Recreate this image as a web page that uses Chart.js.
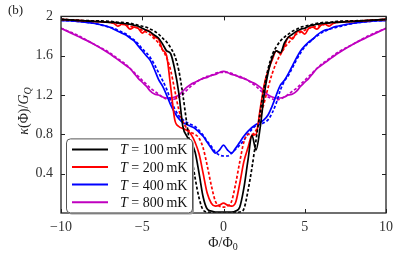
<!DOCTYPE html>
<html>
<head>
<meta charset="utf-8">
<script src="https://cdn.jsdelivr.net/npm/chart.js@4.4.0/dist/chart.umd.min.js"></script>
<style>
  html, body { margin: 0; padding: 0; background: #fff; }
  canvas { display: block; }
</style>
</head>
<body>
<canvas id="chart" width="407" height="253"></canvas>
<script>
// flux values, shared by every curve
const phi = [-10,-9,-8,-7,-6.75,-6.5,-6.25,-6,-5.75,-5.5,-5.25,-5,-4.75,-4.5,-4.25,-4,-3.75,-3.5,-3.25,-3,-2.75,-2.5,-2.25,-2,-1.75,-1.5,-1.25,-1,-0.75,-0.5,-0.25,
  0,
  0.25,0.5,0.75,1,1.25,1.5,1.75,2,2.25,2.5,2.75,3,3.25,3.5,3.75,4,4.25,4.5,4.75,5,5.25,5.5,5.75,6,6.25,6.5,6.75,7,8,9,10]

// kappa / G_Q, solid and dotted, per temperature
const k100 = [1.97,1.96,1.95,1.94,1.94,1.935,1.93,1.925,1.92,1.91,1.9,1.88,1.86,1.84,1.81,1.78,1.72,1.65,1.62,1.46,1.22,0.88,0.78,0.72,0.62,0.4,0.16,0.04,0.02,0.01,0.01,
  0.01,
  0.01,0.01,0.02,0.06,0.25,0.53,0.79,0.64,0.86,1.2,1.43,1.58,1.65,1.63,1.73,1.79,1.82,1.85,1.87,1.88,1.9,1.91,1.92,1.925,1.93,1.935,1.94,1.94,1.95,1.96,1.97]
const k100d = [1.97,1.96,1.955,1.95,1.945,1.94,1.94,1.935,1.93,1.92,1.91,1.9,1.89,1.87,1.85,1.82,1.78,1.74,1.68,1.6,1.45,1.2,0.9,0.62,0.36,0.15,0.03,0.01,0.005,0,0,
  0,
  0,0,0.005,0.01,0.04,0.22,0.46,0.74,1.02,1.27,1.47,1.61,1.69,1.75,1.79,1.82,1.85,1.87,1.89,1.9,1.91,1.92,1.93,1.935,1.94,1.94,1.945,1.95,1.955,1.96,1.97]
const k200 = [1.97,1.96,1.95,1.94,1.93,1.9,1.92,1.91,1.87,1.89,1.88,1.83,1.86,1.84,1.79,1.77,1.66,1.6,1.28,0.95,0.88,0.86,0.84,0.8,0.72,0.6,0.4,0.2,0.1,0.07,0.08,
  0.1,
  0.08,0.07,0.11,0.3,0.52,0.66,0.79,0.8,1.05,1.3,1.45,1.56,1.65,1.62,1.7,1.79,1.77,1.84,1.85,1.82,1.88,1.89,1.87,1.91,1.92,1.9,1.93,1.94,1.95,1.96,1.97]
const k200d = [1.97,1.96,1.95,1.94,1.93,1.93,1.92,1.91,1.9,1.89,1.88,1.86,1.84,1.81,1.77,1.73,1.66,1.58,1.45,1.25,1.05,0.93,0.86,0.82,0.8,0.76,0.66,0.48,0.28,0.12,0.07,
  0.06,
  0.07,0.12,0.3,0.52,0.72,0.8,0.8,0.84,0.97,1.12,1.28,1.42,1.53,1.61,1.68,1.73,1.78,1.82,1.84,1.86,1.88,1.89,1.9,1.91,1.92,1.93,1.93,1.94,1.95,1.96,1.97]
const k400 = [1.96,1.95,1.93,1.89,1.87,1.85,1.83,1.81,1.78,1.75,1.7,1.65,1.6,1.55,1.46,1.36,1.29,1.2,1.1,1.02,0.96,0.92,0.9,0.88,0.86,0.82,0.78,0.72,0.66,0.61,0.64,
  0.69,
  0.64,0.61,0.66,0.72,0.78,0.83,0.87,0.9,0.92,0.95,1.0,1.09,1.2,1.3,1.35,1.42,1.5,1.58,1.65,1.7,1.74,1.77,1.81,1.84,1.86,1.87,1.89,1.9,1.93,1.95,1.96]
const k400d = [1.96,1.95,1.93,1.89,1.88,1.86,1.84,1.82,1.79,1.76,1.72,1.67,1.63,1.58,1.51,1.43,1.35,1.26,1.15,1.06,0.99,0.95,0.92,0.9,0.88,0.84,0.79,0.73,0.68,0.62,0.59,
  0.58,
  0.58,0.61,0.65,0.69,0.74,0.8,0.85,0.89,0.9,0.92,0.95,1.02,1.12,1.25,1.34,1.4,1.48,1.56,1.63,1.69,1.73,1.77,1.8,1.83,1.85,1.87,1.88,1.89,1.93,1.95,1.96]
const k800 = [1.88,1.8,1.72,1.62,1.59,1.56,1.53,1.5,1.47,1.42,1.37,1.33,1.29,1.24,1.21,1.2,1.18,1.17,1.17,1.18,1.2,1.24,1.28,1.31,1.33,1.35,1.37,1.38,1.4,1.41,1.43,
  1.44,
  1.43,1.41,1.4,1.38,1.37,1.35,1.33,1.31,1.28,1.24,1.2,1.18,1.17,1.17,1.18,1.2,1.21,1.24,1.29,1.33,1.37,1.42,1.47,1.5,1.53,1.56,1.59,1.62,1.72,1.8,1.88]
const k800d = [1.88,1.81,1.72,1.63,1.6,1.57,1.54,1.51,1.47,1.43,1.39,1.35,1.31,1.27,1.24,1.21,1.18,1.16,1.15,1.16,1.18,1.21,1.25,1.29,1.32,1.35,1.37,1.39,1.4,1.42,1.43,
  1.43,
  1.43,1.42,1.4,1.39,1.37,1.35,1.32,1.29,1.25,1.21,1.18,1.16,1.15,1.16,1.18,1.21,1.24,1.27,1.31,1.35,1.39,1.43,1.47,1.51,1.54,1.57,1.6,1.63,1.72,1.81,1.88]

const temps = ['100', '200', '400', '800']
const colors = ['#000000', '#ff0000', '#0000ff', '#bf00bf']
const xTicks = [-10, -5, 0, 5, 10]
const yTicks = [0.4, 0.8, 1.2, 1.6, 2]

const SERIF = "'Liberation Serif', 'DejaVu Serif', serif"

function toPoints(arr) {
  return phi.map((x, i) => ({ x: x, y: arr[i] }))
}

function curve(arr, color, dotted) {
  return {
    data: toPoints(arr),
    borderColor: color,
    borderWidth: 1.7,
    borderDash: dotted ? [3, 2] : [],
    pointRadius: 0,
    fill: false,
    cubicInterpolationMode: 'monotone',
  }
}

// draws pieces of text with different fonts one after another
function drawRuns(ctx, runs, x, y, align) {
  let total = 0
  runs.forEach(r => { ctx.font = r.font; total += ctx.measureText(r.text).width })
  let cx = align === 'center' ? x - total / 2 : x
  runs.forEach(r => {
    ctx.font = r.font
    ctx.fillText(r.text, cx, y + (r.dy || 0))
    cx += ctx.measureText(r.text).width
  })
}

const framePlugin = {
  id: 'frame',
  afterDatasetsDraw(chart) {
    const { ctx, chartArea: a, scales: { x, y } } = chart
    ctx.save()
    ctx.strokeStyle = '#222'
    ctx.lineWidth = 1
    xTicks.forEach(v => {
      const px = Math.round(x.getPixelForValue(v)) + 0.5
      ctx.beginPath()
      ctx.moveTo(px, a.bottom); ctx.lineTo(px, a.bottom - 4)
      ctx.moveTo(px, a.top); ctx.lineTo(px, a.top + 4)
      ctx.stroke()
    })
    yTicks.forEach(v => {
      const py = Math.round(y.getPixelForValue(v)) + 0.5
      ctx.beginPath()
      ctx.moveTo(a.left, py); ctx.lineTo(a.left + 4, py)
      ctx.moveTo(a.right, py); ctx.lineTo(a.right - 4, py)
      ctx.stroke()
    })
    ctx.lineWidth = 1.3
    ctx.strokeRect(a.left, a.top, a.right - a.left, a.bottom - a.top)
    ctx.restore()
  }
}

const legendPlugin = {
  id: 'boxLegend',
  afterDraw(chart) {
    const { ctx, chartArea: a } = chart
    const bx = a.left + 5, by = a.top + 122, bw = 126, bh = 74
    ctx.save()
    ctx.fillStyle = '#9a9a9a'
    ctx.beginPath(); ctx.roundRect(bx + 2, by + 2, bw, bh, 4); ctx.fill()
    ctx.fillStyle = '#fff'
    ctx.strokeStyle = '#555'
    ctx.lineWidth = 1
    ctx.beginPath(); ctx.roundRect(bx + 0.5, by + 0.5, bw, bh, 4); ctx.fill(); ctx.stroke()
    ctx.textBaseline = 'alphabetic'
    ctx.fillStyle = '#111'
    temps.forEach((t, i) => {
      const ry = by + 11 + i * 17.6
      ctx.strokeStyle = colors[i]
      ctx.lineWidth = 2
      ctx.beginPath(); ctx.moveTo(bx + 6, ry); ctx.lineTo(bx + 42, ry); ctx.stroke()
      drawRuns(ctx, [
        { text: 'T', font: 'italic 14px ' + SERIF },
        { text: ' = ' + t + '\u2009mK', font: '14px ' + SERIF },
      ], bx + 54, ry + 5, 'left')
    })
    ctx.restore()
  }
}

const labelsPlugin = {
  id: 'labels',
  afterDraw(chart) {
    const { ctx } = chart
    ctx.save()
    ctx.fillStyle = '#222'
    ctx.textBaseline = 'alphabetic'
    ctx.font = '13px ' + SERIF
    ctx.fillText('(b)', 8, 14)
    drawRuns(ctx, [
      { text: '\u03a6/\u03a6', font: '14px ' + SERIF },
      { text: '0', font: '10px ' + SERIF, dy: 3 },
    ], 223, 247, 'center')
    ctx.translate(28, 111)
    ctx.rotate(-Math.PI / 2)
    drawRuns(ctx, [
      { text: '\u03ba', font: 'italic 14px ' + SERIF },
      { text: '(\u03a6)/', font: '14px ' + SERIF },
      { text: 'G', font: 'italic 14px ' + SERIF },
      { text: 'Q', font: 'italic 10px ' + SERIF, dy: 3 },
    ], 0, 0, 'center')
    ctx.restore()
  }
}

new Chart(document.getElementById('chart'), {
  type: 'line',
  data: {
    datasets: [
      curve(k100, colors[0], false),
      curve(k100d, colors[0], true),
      curve(k200, colors[1], false),
      curve(k200d, colors[1], true),
      curve(k400, colors[2], false),
      curve(k400d, colors[2], true),
      curve(k800, colors[3], false),
      curve(k800d, colors[3], true),
    ],
  },
  options: {
    responsive: false,
    animation: false,
    layout: { padding: { top: 12, right: 21, left: 0, bottom: 0 } },
    plugins: {
      legend: { display: false },
      tooltip: { enabled: false },
    },
    scales: {
      x: {
        type: 'linear',
        min: -10,
        max: 10,
        afterBuildTicks: s => { s.ticks = xTicks.map(v => ({ value: v })) },
        afterFit: s => { s.height = 40 },
        grid: { display: false, drawTicks: false },
        border: { display: false },
        ticks: {
          padding: 6,
          color: '#333',
          maxRotation: 0,
          font: { size: 14, family: SERIF },
          callback: v => v < 0 ? '\u2212' + Math.abs(v) : String(v),
        },
      },
      y: {
        min: 0,
        max: 2,
        afterBuildTicks: s => { s.ticks = yTicks.map(v => ({ value: v })) },
        afterFit: s => { s.width = 61 },
        grid: { display: false, drawTicks: false },
        border: { display: false },
        ticks: {
          padding: 8,
          color: '#333',
          font: { size: 14, family: SERIF },
          callback: v => String(+v.toFixed(1)),
        },
      },
    },
  },
  plugins: [framePlugin, legendPlugin, labelsPlugin],
})
</script>
</body>
</html>
